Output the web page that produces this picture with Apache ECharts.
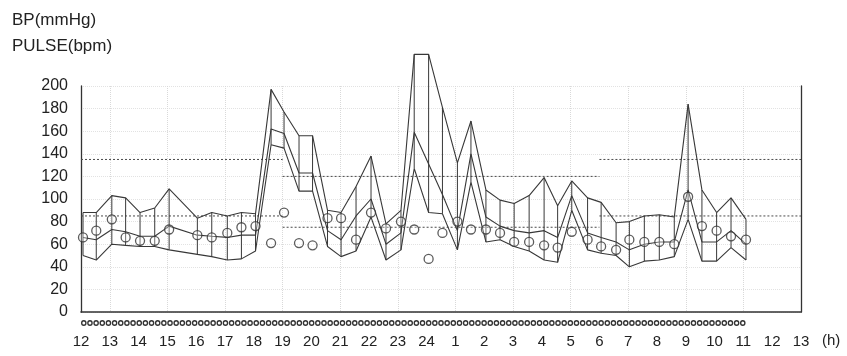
<!DOCTYPE html>
<html>
<head>
<meta charset="utf-8">
<script src="https://cdn.jsdelivr.net/npm/echarts@6/dist/echarts.min.js"></script>
<style>
  html, body { margin: 0; padding: 0; background: #fff; }
  #chart { width: 847px; height: 356px; }
</style>
</head>
<body>
<div id="chart"></div>
<script>
// reading times in hours from noon of day 1 (24 = midnight, 37 = 13h next day)
const times = [12.07, 12.53, 13.07, 13.55, 14.05, 14.56, 15.06, 16.04, 16.54, 17.08, 17.57, 18.06,
  18.6, 19.05, 19.57, 20.04, 20.56, 21.03, 21.55, 22.07, 22.59, 23.11, 23.57, 24.07,
  24.55, 25.07, 25.54, 26.06, 26.55, 27.04, 27.56, 28.08, 28.55, 29.04, 29.59, 30.06,
  30.58, 31.04, 31.56, 32.08, 32.6, 33.08, 33.56, 34.07, 34.57, 35.09];
const systolic = [88, 88, 103, 101, 88, 92, 109, 83, 88, 85, 88, 87,
  197, 177, 156, 156, 90, 88, 111, 138, 78, 90, 228, 228,
  181, 132, 169, 108, 99, 96, 103, 119, 94, 116, 101, 97,
  79, 80, 85, 86, 84, 184, 108, 88, 101, 82];
const mean = [66, 64, 73, 71, 67, 67, 76, 68, 67, 66, 68, 68,
  162, 158, 123, 123, 72, 64, 85, 100, 60, 70, 159, 131,
  104, 72, 140, 84, 76, 72, 70, 72, 66, 103, 70, 66,
  62, 55, 60, 62, 62, 108, 62, 62, 72, 60];
const diastolic = [50, 46, 60, 59, 58, 58, 55, 51, 49, 46, 47, 54,
  148, 145, 107, 107, 58, 49, 54, 84, 46, 55, 127, 88,
  87, 55, 115, 62, 64, 58, 54, 46, 44, 90, 55, 52,
  50, 40, 45, 46, 49, 82, 45, 45, 57, 46];
const pulse = [66, 72, 82, 66, 63, 63, 73, 68, 66, 70, 75, 76,
  61, 88, 61, 59, 83, 83, 64, 88, 74, 80, 73, 47,
  70, 80, 73, 73, 70, 62, 62, 59, 57, 71, 64, 58,
  55, 64, 62, 62, 60, 102, 76, 72, 67, 64];

// threshold limits: [start, end, systolic, diastolic]
const dayLimits1 = [12, 19, 135, 85];
const nightLimits = [19, 30, 120, 75];
const dayLimits2 = [30, 37, 135, 85];

// planned measurement row: hours after 12:00 covered
const scheduleSpan = [23];

const hourLabels = ['12', '13', '14', '15', '16', '17', '18', '19', '20', '21', '22', '23', '24',
  '1', '2', '3', '4', '5', '6', '7', '8', '9', '10', '11', '12', '13'];

const pairs = (vals) => times.map((t, i) => [t, vals[i]]);
const limitSeg = (lim, idx) => [[lim[0], lim[idx]], [lim[1], lim[idx]]];

const ink = '#383838';
const font = "'Liberation Sans', Arial, sans-serif";
// ring outline used for the planned-measurement row
const ring = 'path://M50,0 A50,50 0 1,1 49.99,0 Z M50,24 A26,26 0 1,0 50.01,24 Z';

const chart = echarts.init(document.getElementById('chart'));

const lineSeries = (name, vals) => ({
  name, type: 'line', data: pairs(vals), symbol: 'none', clip: false,
  lineStyle: { color: ink, width: 1.1 }, z: 3, animation: false
});

const limitSeries = (lim, idx) => ({
  type: 'line', data: limitSeg(lim, idx), symbol: 'none', clip: false,
  lineStyle: { color: '#4a4a4a', width: 1, type: [2, 2] }, z: 2, animation: false
});

chart.setOption({
  animation: false,
  grid: [
    { left: 81, right: 46, top: 86, bottom: 44 },
    { left: 81, right: 46, top: 318, height: 10 }
  ],
  graphic: [
    { type: 'text', left: 12, top: 12, style: { text: 'BP(mmHg)', font: '17px ' + font, fill: '#222' } },
    { type: 'text', left: 12, top: 38, style: { text: 'PULSE(bpm)', font: '17px ' + font, fill: '#222' } },
    { type: 'text', left: 822, top: 333, style: { text: '(h)', font: '15px ' + font, fill: '#222' } }
  ],
  xAxis: [
    {
      type: 'value', min: 12, max: 37, interval: 1, gridIndex: 0,
      axisLine: { lineStyle: { color: '#333', width: 1.6 } },
      axisTick: { show: false },
      axisLabel: {
        margin: 22, color: '#222', fontSize: 15, fontFamily: font,
        formatter: (v) => hourLabels[Math.round(v - 12)]
      },
      splitLine: { show: true, lineStyle: { color: ['rgba(0,0,0,0)', '#d9d9d9'], type: 'dotted' } }
    },
    { type: 'value', min: 0, max: 25, gridIndex: 1, show: false }
  ],
  yAxis: [
    {
      type: 'value', min: 0, max: 200, interval: 20, gridIndex: 0,
      axisLine: { show: true, lineStyle: { color: '#333', width: 1.3 } },
      axisTick: { show: false },
      axisLabel: { margin: 13, color: '#222', fontSize: 16, fontFamily: font },
      splitLine: { show: true, lineStyle: { color: '#e2e2e2', type: 'dotted' } }
    },
    {
      type: 'value', min: 0, max: 200, gridIndex: 0, position: 'right',
      axisLine: { show: true, lineStyle: { color: '#333', width: 1.3 } },
      axisTick: { show: false }, axisLabel: { show: false }, splitLine: { show: false }
    },
    { type: 'category', data: ['plan'], gridIndex: 1, show: false }
  ],
  series: [
    limitSeries(dayLimits1, 2), limitSeries(dayLimits1, 3),
    limitSeries(nightLimits, 2), limitSeries(nightLimits, 3),
    limitSeries(dayLimits2, 2), limitSeries(dayLimits2, 3),
    lineSeries('Systolic', systolic),
    lineSeries('Mean', mean),
    lineSeries('Diastolic', diastolic),
    {
      name: 'Range', type: 'custom', clip: false, z: 3,
      data: times.map((t, i) => [t, diastolic[i], systolic[i]]),
      encode: { x: 0, y: [1, 2] },
      renderItem: (params, api) => {
        const lo = api.coord([api.value(0), api.value(1)]);
        const hi = api.coord([api.value(0), api.value(2)]);
        return {
          type: 'line',
          shape: { x1: lo[0], y1: lo[1], x2: hi[0], y2: hi[1] },
          style: { stroke: ink, lineWidth: 1 }
        };
      }
    },
    {
      name: 'Pulse', type: 'scatter', data: pairs(pulse), symbol: 'circle', symbolSize: 9, z: 4,
      itemStyle: { color: 'rgba(255,255,255,0.35)', borderColor: '#333', borderWidth: 1.3 }
    },
    {
      name: 'Plan', type: 'pictorialBar', xAxisIndex: 1, yAxisIndex: 2, data: scheduleSpan,
      symbol: ring, symbolRepeat: true, symbolSize: [5.6, 6], symbolMargin: 0.3,
      barWidth: 6, z: 5,
      itemStyle: { color: '#333' }
    }
  ]
});
</script>
</body>
</html>
